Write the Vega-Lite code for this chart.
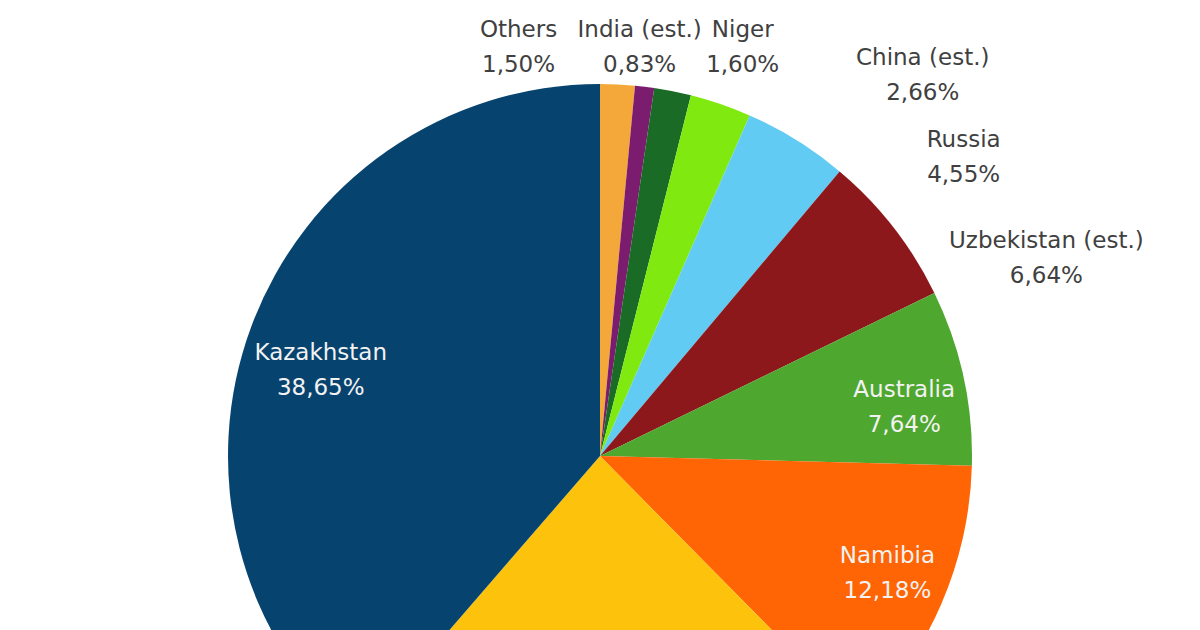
{
  "$schema": "https://vega.github.io/schema/vega-lite/v6.json",
  "width": 1200,
  "height": 630,
  "autosize": "none",
  "padding": 0,
  "background": "white",
  "config": {"view": {"stroke": "#d4d4d4", "strokeWidth": 6}},
  "data": {
    "values": [
      {"country": "Others", "value": 1.50},
      {"country": "India (est.)", "value": 0.83},
      {"country": "Niger", "value": 1.60},
      {"country": "China (est.)", "value": 2.66},
      {"country": "Russia", "value": 4.55},
      {"country": "Uzbekistan (est.)", "value": 6.64},
      {"country": "Australia", "value": 7.64},
      {"country": "Namibia", "value": 12.18},
      {"country": "Canada", "value": 23.75},
      {"country": "Kazakhstan", "value": 38.65}
    ]
  },
  "transform": [
    {"window": [{"op": "row_number", "as": "rank"}]},
    {"stack": "value", "groupby": [], "sort": [{"field": "rank", "order": "ascending"}], "as": ["v0", "v1"]},
    {"calculate": "(datum.v0 + datum.v1) / 2", "as": "mid"},
    {"calculate": "datum.country + '\\n' + replace(format(datum.value, '.2f'), '.', ',') + '%'", "as": "label"}
  ],
  "layer": [
    {
      "mark": {"type": "arc", "x": {"expr": "width / 2"}, "y": 456, "radius": 372, "stroke": null},
      "encoding": {
        "theta": {"field": "v0", "type": "quantitative", "scale": {"domain": [0, 100]}},
        "theta2": {"field": "v1"},
        "color": {
          "field": "country",
          "type": "nominal",
          "legend": null,
          "scale": {
            "domain": ["Others", "India (est.)", "Niger", "China (est.)", "Russia", "Uzbekistan (est.)", "Australia", "Namibia", "Canada", "Kazakhstan"],
            "range": ["#F4A83A", "#7B1C6F", "#1A6B25", "#80EA10", "#62CBF3", "#8C181C", "#4EA72E", "#FF6405", "#FDC20C", "#07436F"]
          }
        }
      }
    },
    {
      "transform": [{"filter": "datum.country == 'Others'"}],
      "mark": {"type": "text", "x": {"expr": "width / 2"}, "y": 456, "radius": 372, "dx": -99, "dy": -47, "align": "center", "baseline": "alphabetic", "lineBreak": "\n", "lineHeight": 35, "font": "DejaVu Sans", "fontSize": 23, "fill": "#404040"},
      "encoding": {"theta": {"field": "mid", "type": "quantitative", "scale": {"domain": [0, 100]}}, "text": {"field": "label", "type": "nominal"}}
    },
    {
      "transform": [{"filter": "datum.country == 'India (est.)'"}],
      "mark": {"type": "text", "x": {"expr": "width / 2"}, "y": 456, "radius": 372, "dx": -5, "dy": -50, "align": "center", "baseline": "alphabetic", "lineBreak": "\n", "lineHeight": 35, "font": "DejaVu Sans", "fontSize": 23, "fill": "#404040"},
      "encoding": {"theta": {"field": "mid", "type": "quantitative", "scale": {"domain": [0, 100]}}, "text": {"field": "label", "type": "nominal"}}
    },
    {
      "transform": [{"filter": "datum.country == 'Niger'"}],
      "mark": {"type": "text", "x": {"expr": "width / 2"}, "y": 456, "radius": 372, "dx": 70, "dy": -54, "align": "center", "baseline": "alphabetic", "lineBreak": "\n", "lineHeight": 35, "font": "DejaVu Sans", "fontSize": 23, "fill": "#404040"},
      "encoding": {"theta": {"field": "mid", "type": "quantitative", "scale": {"domain": [0, 100]}}, "text": {"field": "label", "type": "nominal"}}
    },
    {
      "transform": [{"filter": "datum.country == 'China (est.)'"}],
      "mark": {"type": "text", "x": {"expr": "width / 2"}, "y": 456, "radius": 372, "dx": 202, "dy": -39, "align": "center", "baseline": "alphabetic", "lineBreak": "\n", "lineHeight": 35, "font": "DejaVu Sans", "fontSize": 23, "fill": "#404040"},
      "encoding": {"theta": {"field": "mid", "type": "quantitative", "scale": {"domain": [0, 100]}}, "text": {"field": "label", "type": "nominal"}}
    },
    {
      "transform": [{"filter": "datum.country == 'Russia'"}],
      "mark": {"type": "text", "x": {"expr": "width / 2"}, "y": 456, "radius": 372, "dx": 167, "dy": 7, "align": "center", "baseline": "alphabetic", "lineBreak": "\n", "lineHeight": 35, "font": "DejaVu Sans", "fontSize": 23, "fill": "#404040"},
      "encoding": {"theta": {"field": "mid", "type": "quantitative", "scale": {"domain": [0, 100]}}, "text": {"field": "label", "type": "nominal"}}
    },
    {
      "transform": [{"filter": "datum.country == 'Uzbekistan (est.)'"}],
      "mark": {"type": "text", "x": {"expr": "width / 2"}, "y": 456, "radius": 372, "dx": 153, "dy": 21, "align": "center", "baseline": "alphabetic", "lineBreak": "\n", "lineHeight": 35, "font": "DejaVu Sans", "fontSize": 23, "fill": "#404040"},
      "encoding": {"theta": {"field": "mid", "type": "quantitative", "scale": {"domain": [0, 100]}}, "text": {"field": "label", "type": "nominal"}}
    },
    {
      "transform": [{"filter": "datum.country == 'Australia'"}],
      "mark": {"type": "text", "x": {"expr": "width / 2"}, "y": 456, "radius": 298, "dx": 13, "dy": 4, "align": "center", "baseline": "alphabetic", "lineBreak": "\n", "lineHeight": 35, "font": "DejaVu Sans", "fontSize": 23, "fill": "#f2f2f2"},
      "encoding": {"theta": {"field": "mid", "type": "quantitative", "scale": {"domain": [0, 100]}}, "text": {"field": "label", "type": "nominal"}}
    },
    {
      "transform": [{"filter": "datum.country == 'Namibia'"}],
      "mark": {"type": "text", "x": {"expr": "width / 2"}, "y": 456, "radius": 298, "dx": 14, "dy": -12, "align": "center", "baseline": "alphabetic", "lineBreak": "\n", "lineHeight": 35, "font": "DejaVu Sans", "fontSize": 23, "fill": "#f2f2f2"},
      "encoding": {"theta": {"field": "mid", "type": "quantitative", "scale": {"domain": [0, 100]}}, "text": {"field": "label", "type": "nominal"}}
    },
    {
      "transform": [{"filter": "datum.country == 'Kazakhstan'"}],
      "mark": {"type": "text", "x": {"expr": "width / 2"}, "y": 456, "radius": 298, "dx": 0, "dy": 8, "align": "center", "baseline": "alphabetic", "lineBreak": "\n", "lineHeight": 35, "font": "DejaVu Sans", "fontSize": 23, "fill": "#f2f2f2"},
      "encoding": {"theta": {"field": "mid", "type": "quantitative", "scale": {"domain": [0, 100]}}, "text": {"field": "label", "type": "nominal"}}
    }
  ]
}
